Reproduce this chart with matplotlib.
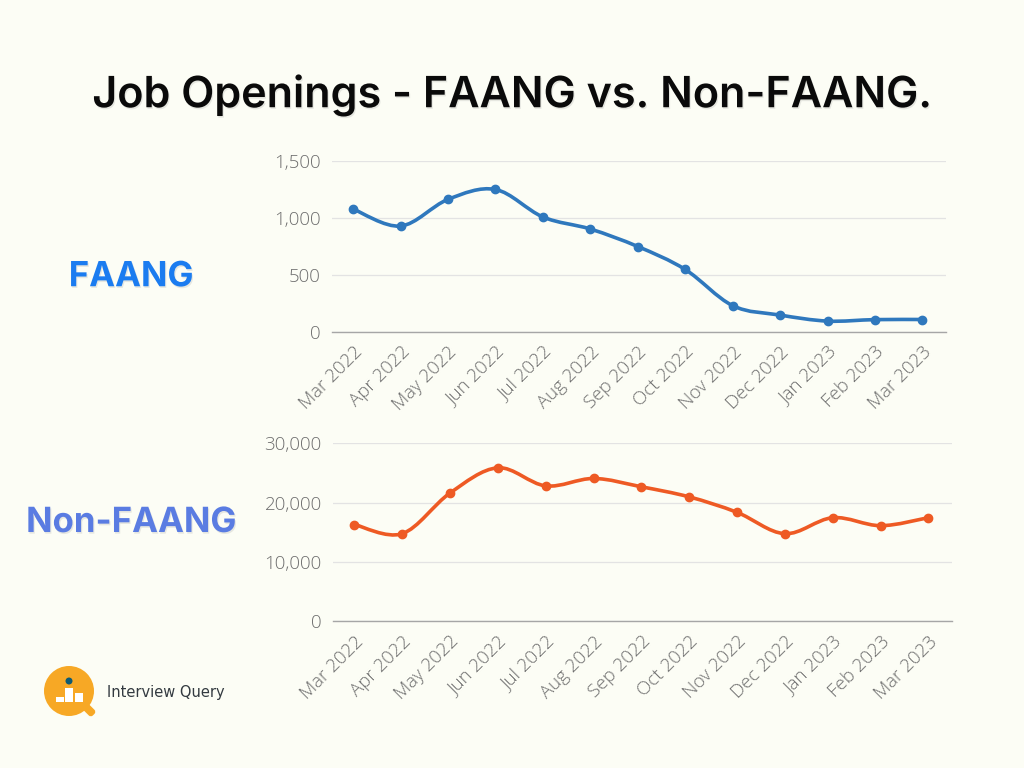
import numpy as np
import matplotlib
matplotlib.use("Agg")
import matplotlib.pyplot as plt
from matplotlib.path import Path
from matplotlib.patches import PathPatch, Circle, FancyBboxPatch
import matplotlib.patheffects as pe
from matplotlib.ticker import FuncFormatter

months = ['Mar 2022', 'Apr 2022', 'May 2022', 'Jun 2022', 'Jul 2022', 'Aug 2022',
          'Sep 2022', 'Oct 2022', 'Nov 2022', 'Dec 2022', 'Jan 2023', 'Feb 2023', 'Mar 2023']
faang = [1080, 930, 1165, 1252, 1010, 904, 750, 548, 230, 147, 94, 107, 108]
non_faang = [16300, 14750, 21600, 25850, 22800, 24050, 22650, 20950, 18350, 14750, 17450, 16100, 17450]

bg = '#FCFDF5'
blue = '#2F78BD'
orange = '#EE5A24'
tick_col = '#6E6E6E'

plt.rcParams['font.family'] = ['Open Sans', 'DejaVu Sans']


# smooth curve through the points (bezier, like a spreadsheet "smoothed line")
def smooth_path(x, y):
    x = np.asarray(x, float)
    y = np.asarray(y, float)
    n = len(x)
    verts = [(x[0], y[0])]
    codes = [Path.MOVETO]
    for i in range(n - 1):
        i0 = max(i - 1, 0)
        i3 = min(i + 2, n - 1)
        c1 = (x[i] + (x[i + 1] - x[i0]) / 6, y[i] + (y[i + 1] - y[i0]) / 6)
        c2 = (x[i + 1] - (x[i3] - x[i]) / 6, y[i + 1] - (y[i3] - y[i]) / 6)
        verts += [c1, c2, (x[i + 1], y[i + 1])]
        codes += [Path.CURVE4] * 3
    return Path(verts, codes)


def draw_panel(ax, values, color, ymax, step):
    xs = np.arange(len(months))
    ax.set_facecolor(bg)
    ax.add_patch(PathPatch(smooth_path(xs, values), facecolor='none', edgecolor=color,
                           lw=2.6, capstyle='round', joinstyle='round', zorder=3))
    ax.plot(xs, values, 'o', color=color, ms=6, zorder=4)
    ax.set_xlim(-0.45, len(months) - 0.5)
    ax.set_ylim(0, ymax)
    ax.set_yticks(np.arange(0, ymax + 1, step))
    ax.yaxis.set_major_formatter(FuncFormatter(lambda v, p: f'{int(v):,}'))
    ax.set_xticks(xs)
    ax.set_xticklabels(months, rotation=45, ha='right', rotation_mode='anchor')
    ax.grid(axis='y', color='#E3E3E3', lw=0.9)
    ax.set_axisbelow(True)
    for s in ['top', 'right', 'left']:
        ax.spines[s].set_visible(False)
    ax.spines['bottom'].set_color('#A6A6A6')
    ax.spines['bottom'].set_linewidth(1.0)
    ax.tick_params(length=0, labelsize=13.5, colors=tick_col, pad=8)
    for lab in ax.get_xticklabels() + ax.get_yticklabels():
        lab.set_fontweight('light')


fig = plt.figure(figsize=(10.24, 7.68), dpi=100, facecolor=bg)

ax1 = fig.add_axes([0.324, 0.568, 0.600, 0.222])
draw_panel(ax1, faang, blue, 1500, 500)

ax2 = fig.add_axes([0.325, 0.191, 0.605, 0.232])
draw_panel(ax2, non_faang, orange, 30000, 10000)

soft = [pe.SimplePatchShadow(offset=(0.8, -1.2), shadow_rgbFace='#999999', alpha=0.22), pe.Normal()]

title = fig.text(0.5, 0.876, 'Job Openings - FAANG vs. Non-FAANG.', ha='center', va='center',
                 fontsize=31, fontweight='semibold', color='#0A0A0A', family=['Inter', 'DejaVu Sans'])
title.set_path_effects(soft)

t1 = fig.text(0.128, 0.639, 'FAANG', ha='center', va='center', fontsize=25,
              fontweight='bold', color='#1B7CF0', family=['Inter', 'DejaVu Sans'])
t2 = fig.text(0.128, 0.319, 'Non-FAANG', ha='center', va='center', fontsize=25,
              fontweight='bold', color='#5A7CE2', family=['Inter', 'DejaVu Sans'])
for t in (t1, t2):
    t.set_path_effects(soft)

# logo
lg = fig.add_axes([0, 0, 1, 1], zorder=-1)
lg.set_xlim(0, 1024)
lg.set_ylim(768, 0)
lg.axis('off')
lg.patch.set_alpha(0)
tail = FancyBboxPatch((80, 705), 16, 8, boxstyle='round,pad=0,rounding_size=3',
                      facecolor='#F7A825', edgecolor='none')
tail.set_transform(matplotlib.transforms.Affine2D().rotate_deg_around(88, 709, 45) + lg.transData)
lg.add_patch(tail)
lg.add_patch(Circle((69, 691), 25, facecolor='#F7A825', edgecolor='none'))
for x0, top in [(56, 697), (65, 688), (75, 693)]:
    lg.add_patch(plt.Rectangle((x0, top), 8, 702 - top, facecolor='white', edgecolor='none'))
lg.add_patch(Circle((69, 681), 3.5, facecolor='#0E5A73', edgecolor='none'))
lg.text(107, 692, 'Interview Query', ha='left', va='center', fontsize=10.5,
        color='#333A40', family=['DejaVu Sans Condensed', 'DejaVu Sans'])

fig.savefig('out.png', dpi=100, facecolor=bg)
